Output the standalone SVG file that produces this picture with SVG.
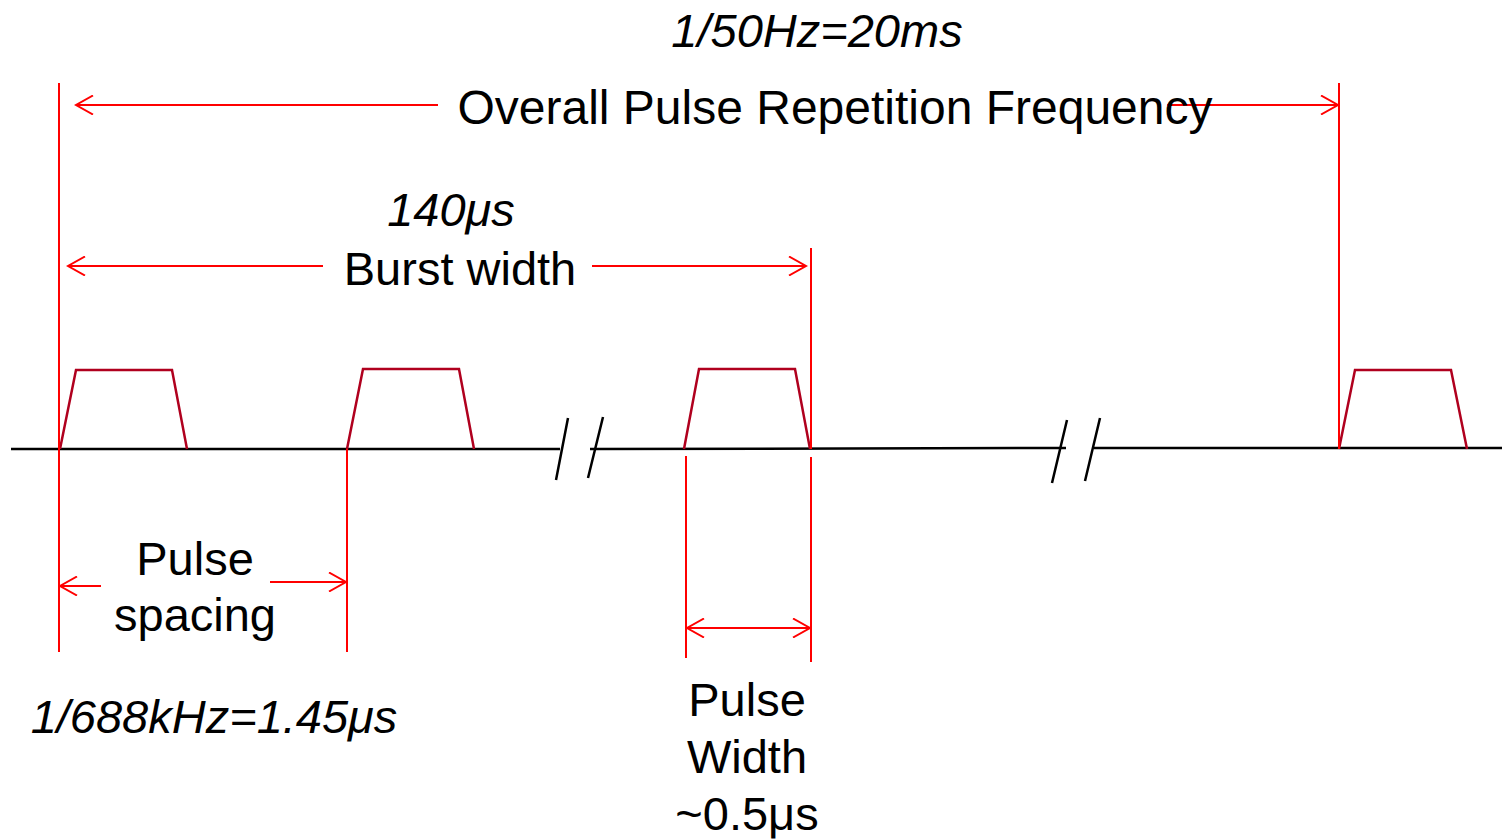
<svg xmlns="http://www.w3.org/2000/svg" width="1502" height="839" viewBox="0 0 1502 839">
<defs>
<marker id="ah" viewBox="-18 -10 20 20" refX="0" refY="0" markerWidth="20" markerHeight="20" markerUnits="userSpaceOnUse" orient="auto-start-reverse">
<path d="M-17,-9.5 L0,0 L-17,9.5" fill="none" stroke="#ff0000" stroke-width="2"/>
</marker>
<style>
.red{fill:none;stroke:#ff0000;stroke-width:2}
.pulse{fill:none;stroke:#b0001e;stroke-width:2.5;stroke-linejoin:miter}
.base{fill:none;stroke:#000;stroke-width:2.5}
.t{font-family:"Liberation Sans",Arial,sans-serif;font-size:47px;fill:#000;text-anchor:middle}
.i{font-style:italic}
</style>
</defs>
<rect width="1502" height="839" fill="#fff"/>
<g id="baseline">
<path class="base" d="M11,449 H560 M590,449 L1066,448 M1094,448 H1502"/>
<path class="base" d="M568,418 L556,480 M603,417 L588,478 M1067,420 L1052,483 M1100,418 L1085,481" stroke-width="2"/>
</g>
<g id="pulse1"><path class="pulse" d="M60,449 L76,370 H172 L187,449"/></g>
<g id="pulse2"><path class="pulse" d="M347,449 L363,369 H459 L474,449"/></g>
<g id="pulse3"><path class="pulse" d="M684,449 L699,369 H795 L810,449"/></g>
<g id="pulse4"><path class="pulse" d="M1339,449 L1355,370 H1451 L1467,449"/></g>
<g id="connectors">
<line class="red" x1="59" y1="83" x2="59" y2="652"/>
<line class="red" x1="1339" y1="83" x2="1339" y2="449"/>
<line class="red" x1="811" y1="248" x2="811" y2="449"/>
<line class="red" x1="347" y1="449" x2="347" y2="652"/>
<line class="red" x1="686" y1="456" x2="686" y2="658"/>
<line class="red" x1="811" y1="457" x2="811" y2="662"/>
<line class="red" x1="438" y1="105" x2="76" y2="105" marker-end="url(#ah)"/>
<line class="red" x1="1167" y1="105" x2="1338" y2="105" marker-end="url(#ah)"/>
<line class="red" x1="323" y1="266" x2="68" y2="266" marker-end="url(#ah)"/>
<line class="red" x1="592" y1="266" x2="806" y2="266" marker-end="url(#ah)"/>
<line class="red" x1="101" y1="586" x2="60" y2="586" marker-end="url(#ah)"/>
<line class="red" x1="270" y1="582" x2="346" y2="582" marker-end="url(#ah)"/>
<line class="red" x1="687" y1="628" x2="810" y2="628" marker-start="url(#ah)" marker-end="url(#ah)"/>
</g>
<g id="labels">
<text class="t i" x="817" y="47">1/50Hz=20ms</text>
<text class="t" x="835" y="124" style="font-size:48px">Overall Pulse Repetition Frequency</text>
<text class="t i" x="451" y="226">140μs</text>
<text class="t" x="460" y="285">Burst width</text>
<text class="t" x="195" y="575">Pulse</text>
<text class="t" x="195" y="631">spacing</text>
<text class="t i" x="214" y="733">1/688kHz=1.45μs</text>
<text class="t" x="747" y="716">Pulse</text>
<text class="t" x="747" y="773">Width</text>
<text class="t" x="747" y="830">~0.5μs</text>
</g>
</svg>
